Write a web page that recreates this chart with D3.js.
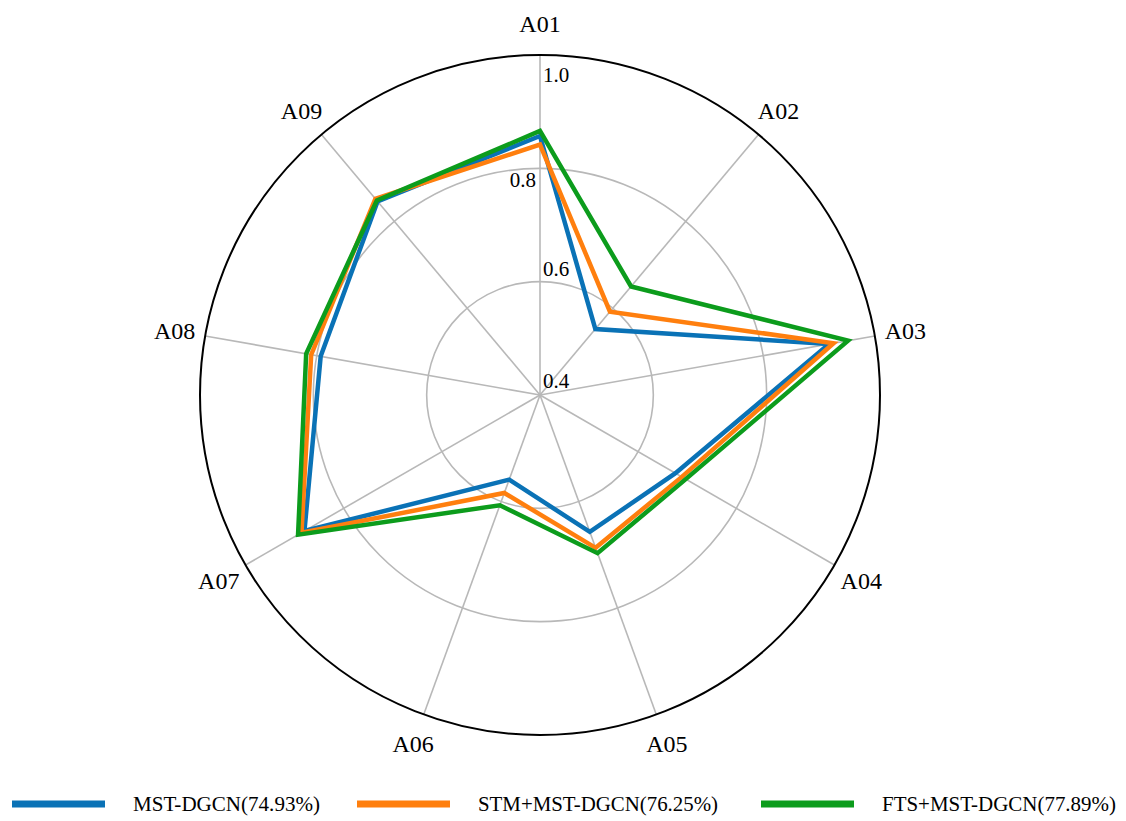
<!DOCTYPE html>
<html>
<head>
<meta charset="utf-8">
<script src="https://cdn.jsdelivr.net/npm/d3@7"></script>
<style>
  body { margin: 0; background: #fff; }
</style>
</head>
<body>
<div id="radar"></div>
<script>
// axis names, clockwise from top
const axes = ["A01", "A02", "A03", "A04", "A05", "A06", "A07", "A08", "A09"];

const mstDgcn    = [0.857, 0.552, 0.918, 0.676, 0.657, 0.559, 0.880, 0.793, 0.846];
const stmMstDgcn = [0.842, 0.592, 0.926, 0.689, 0.687, 0.584, 0.886, 0.810, 0.852];
const ftsMstDgcn = [0.866, 0.650, 0.952, 0.697, 0.697, 0.607, 0.893, 0.819, 0.848];

const seriesNames = ["MST-DGCN(74.93%)", "STM+MST-DGCN(76.25%)", "FTS+MST-DGCN(77.89%)"];
const radialTicks = [0.4, 0.6, 0.8, 1.0];

let width = 1126;
let height = 821;
let cx = 540, cy = 395, R = 340;
let colors = ["#0a72b6", "#ff7f0e", "#0c9c1c"];
let serif = '"Liberation Serif"';

let svg = d3.select('#radar').append('svg')
  .attr('width', width)
  .attr('height', height);

let r = d3.scaleLinear().domain([0.4, 1.0]).range([0, R]);
let angle = d3.scaleLinear().domain([0, axes.length]).range([0, 2 * Math.PI]);

let g = svg.append('g').attr('transform', `translate(${cx},${cy})`);

// grid circles (inner ones grey, outer black)
g.selectAll('circle.grid')
  .data(radialTicks.slice(1, -1))
  .enter()
  .append('circle')
  .attr('r', d => r(d))
  .attr('fill', 'none')
  .attr('stroke', '#b8b8b8')
  .attr('stroke-width', 1.6);

// spokes
g.selectAll('line.spoke')
  .data(axes)
  .enter()
  .append('line')
  .attr('x1', 0).attr('y1', 0)
  .attr('x2', (d, i) => R * Math.sin(angle(i)))
  .attr('y2', (d, i) => -R * Math.cos(angle(i)))
  .attr('stroke', '#b8b8b8')
  .attr('stroke-width', 1.6);

g.append('circle')
  .attr('r', r(1.0))
  .attr('fill', 'none')
  .attr('stroke', '#000')
  .attr('stroke-width', 2);

// radial tick labels along the A01 spoke (0.8 sits left of the spoke)
let tickShift = [-7, -6, 19, 27];
let tickSide = [3, 3, -4, 3];
g.selectAll('text.tick')
  .data(radialTicks)
  .enter()
  .append('text')
  .attr('x', (d, i) => tickSide[i])
  .attr('y', (d, i) => -r(d) + tickShift[i])
  .attr('text-anchor', (d, i) => tickSide[i] < 0 ? 'end' : 'start')
  .attr('font-size', 21)
  .style('font-family', serif)
  .text(d => d.toFixed(1));

// axis labels
g.selectAll('text.axis')
  .data(axes)
  .enter()
  .append('text')
  .attr('x', (d, i) => 371 * Math.sin(angle(i)))
  .attr('y', (d, i) => -371 * Math.cos(angle(i)))
  .attr('text-anchor', 'middle')
  .attr('dominant-baseline', 'central')
  .attr('font-size', 24)
  .style('font-family', serif)
  .text(d => d);

let line = d3.lineRadial()
  .angle((d, i) => angle(i))
  .radius(d => r(d))
  .curve(d3.curveLinearClosed);

g.selectAll('path.series')
  .data([mstDgcn, stmMstDgcn, ftsMstDgcn])
  .enter()
  .append('path')
  .attr('d', d => line(d))
  .attr('fill', 'none')
  .attr('stroke', (d, i) => colors[i])
  .attr('stroke-width', 4.5);

// legend
let legendX = [12, 357, 761];
let legendTextW = [187, 240, 234];
seriesNames.forEach((name, i) => {
  svg.append('line')
    .attr('x1', legendX[i]).attr('x2', legendX[i] + 93)
    .attr('y1', 804).attr('y2', 804)
    .attr('stroke', colors[i])
    .attr('stroke-width', 7);
  svg.append('text')
    .attr('x', legendX[i] + 121)
    .attr('y', 811)
    .attr('font-size', 21)
    .style('font-family', serif)
    .attr('textLength', legendTextW[i])
    .attr('lengthAdjust', 'spacingAndGlyphs')
    .text(name);
});
</script>
</body>
</html>
